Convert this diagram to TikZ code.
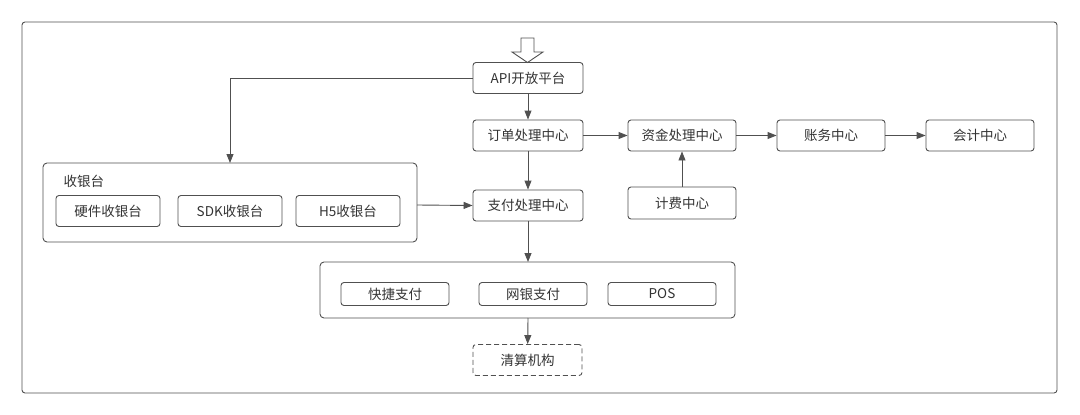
\documentclass[tikz,border=0pt]{standalone}
\usepackage{fontspec}
\setmainfont{Noto Sans CJK SC}
\usetikzlibrary{arrows.meta}
\definecolor{ln}{HTML}{505050}
\definecolor{tx}{HTML}{333333}
\tikzset{
  box/.style={draw=ln, line width=0.9pt, rounded corners=3pt, minimum width=#1, minimum height=31pt, inner sep=0pt, text=tx, font=\fontsize{13.5}{16}\selectfont},
  box/.default=110pt,
  grp/.style={draw=ln, line width=0.9pt, rounded corners=4pt},
  arr/.style={draw=ln, line width=0.9pt, -{Triangle[length=9pt,width=7pt]}},
}
\begin{document}
\begin{tikzpicture}[x=1pt,y=-1pt]
\useasboundingbox (0,0) rectangle (1080,415);
\draw[ln, line width=0.9pt, rounded corners=3pt] (22,22) rectangle (1057,393);
% groups
\draw[grp] (43,163) rectangle (417,242);
\node[text=tx, font=\fontsize{13.5}{16}\selectfont, anchor=west] at (60,181) {收银台};
\node[box=104pt] (hw) at (108,211) {硬件收银台};
\node[box=104pt] (sdk) at (230,211) {SDK收银台};
\node[box=104pt] (h5) at (348,211) {H5收银台};
\coordinate (cashier) at (230,163);
\coordinate (cashierR) at (417,205);
\draw[grp] (320,262) rectangle (735,318);
\coordinate (paygrpT) at (528,262);
\coordinate (paygrpB) at (528,318);
\node[box=108pt, minimum height=23pt] (kj) at (395,294) {快捷支付};
\node[box=108pt, minimum height=23pt] (wy) at (533,294) {网银支付};
\node[box=108pt, minimum height=23pt] (pos) at (662,294) {POS};
% main nodes
\node[box] (api) at (528,78) {API开放平台};
\node[box] (order) at (528,135.5) {订单处理中心};
\node[box] (pay) at (528,205.5) {支付处理中心};
\node[box=108pt] (fund) at (682,135.5) {资金处理中心};
\node[box=108pt] (acct) at (831,135.5) {账务中心};
\node[box=108pt] (kuaiji) at (980,135.5) {会计中心};
\node[box=108pt, minimum height=32pt] (fee) at (682,203) {计费中心};
\node[box=109pt, dashed, dash pattern=on 5pt off 3pt] (clear) at (527.5,360) {清算机构};
% hollow arrow
\draw[ln, line width=0.9pt, fill=white, line join=miter] (521,38) -- (534,38) -- (534,52) -- (543,52) -- (527.5,62.5) -- (512,52) -- (521,52) -- cycle;
% connectors
\draw[arr] (api.west) -| (cashier);
\draw[arr] (api) -- (order);
\draw[arr] (order) -- (pay);
\draw[arr] (order) -- (fund);
\draw[arr] (fund) -- (acct);
\draw[arr] (acct) -- (kuaiji);
\draw[arr] (fee) -- (fund);
\draw[arr] (cashierR) -- (pay.west);
\draw[arr] (pay) -- (paygrpT);
\draw[arr] (paygrpB) -- (clear);
\end{tikzpicture}
\end{document}
